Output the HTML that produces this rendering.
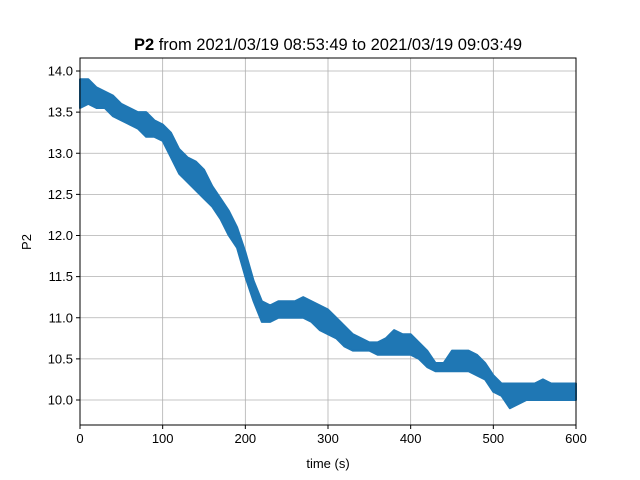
<!DOCTYPE html>
<html><head><meta charset="utf-8"><style>
html,body{margin:0;padding:0;background:#fff;}
svg{display:block;font-family:"Liberation Sans","DejaVu Sans",sans-serif;}
</style></head><body>
<svg id="chart" width="640" height="480">
<rect width="640" height="480" fill="#fff"/>
<text x="328" y="50" text-anchor="middle" font-size="16.5"><tspan font-weight="bold">P2</tspan> from 2021/03/19 08:53:49 to 2021/03/19 09:03:49</text>
<g id="grid"></g>
<g id="series"></g>
<rect x="80" y="58" width="496" height="367" fill="none" stroke="#000" stroke-width="1"/>
<g id="ticks"></g>
<text x="328" y="468" text-anchor="middle" font-size="13">time (s)</text>
<text transform="translate(31,242) rotate(-90)" text-anchor="middle" font-size="13">P2</text>
</svg>
<script>
const times=[0,10,20,30,40,50,60,70,80,90,100,110,120,130,140,150,160,170,180,190,200,210,220,230,240,250,260,270,280,290,300,310,320,330,340,350,360,370,380,390,400,410,420,430,440,450,460,470,480,490,500,510,520,530,540,550,560,570,580,590,600];
const lowVals=[13.55,13.6,13.55,13.55,13.45,13.4,13.35,13.3,13.2,13.2,13.15,12.95,12.75,12.65,12.55,12.45,12.35,12.2,12.0,11.85,11.5,11.2,10.95,10.95,11.0,11.0,11.0,11.0,10.95,10.85,10.8,10.75,10.65,10.6,10.6,10.6,10.55,10.55,10.55,10.55,10.55,10.5,10.4,10.35,10.35,10.35,10.35,10.35,10.3,10.25,10.1,10.05,9.9,9.95,10.0,10.0,10.0,10.0,10.0,10.0,10.0];
const highVals=[13.9,13.9,13.8,13.75,13.7,13.6,13.55,13.5,13.5,13.4,13.35,13.25,13.05,12.95,12.9,12.8,12.6,12.45,12.3,12.1,11.8,11.45,11.2,11.15,11.2,11.2,11.2,11.25,11.2,11.15,11.1,11.0,10.9,10.8,10.75,10.7,10.7,10.75,10.85,10.8,10.8,10.7,10.6,10.45,10.45,10.6,10.6,10.6,10.55,10.45,10.3,10.2,10.2,10.2,10.2,10.2,10.25,10.2,10.2,10.2,10.2];
const xTicks=[0,100,200,300,400,500,600];
const yTicks=[10.0,10.5,11.0,11.5,12.0,12.5,13.0,13.5,14.0];
const ns="http://www.w3.org/2000/svg";
const X=t=>80+t/600*496;
const Y=v=>400-(v-10)*82.25;
const grid=document.getElementById('grid'),ticks=document.getElementById('ticks'),series=document.getElementById('series');
function mk(tag,attrs,parent){const e=document.createElementNS(ns,tag);for(const k in attrs)e.setAttribute(k,attrs[k]);parent.appendChild(e);return e;}
xTicks.forEach(t=>{
 const g=mk('line',{x1:X(t),x2:X(t),y1:58,y2:425,stroke:'#b0b0b0','stroke-width':0.8},grid);
 
 
 mk('line',{x1:X(t),x2:X(t),y1:425,y2:429,stroke:'#000'},ticks);
 const l=mk('text',{x:X(t),y:443,'text-anchor':'middle','font-size':13},ticks);
 l.textContent=String(t);
 
 
});
yTicks.forEach(v=>{
 const g=mk('line',{x1:80,x2:576,y1:Y(v),y2:Y(v),stroke:'#b0b0b0','stroke-width':0.8},grid);
 
 
 mk('line',{x1:76,x2:80,y1:Y(v),y2:Y(v),stroke:'#000'},ticks);
 const l=mk('text',{x:73,y:Y(v)+4.5,'text-anchor':'end','font-size':13},ticks);
 l.textContent=v.toFixed(1);
 
 
});
let pts=times.map((t,i)=>X(t)+','+Y(highVals[i]));
for(let i=times.length-1;i>=0;i--)pts.push(X(times[i])+','+Y(lowVals[i]));
const band=mk('polygon',{points:pts.join(' '),fill:'#1f77b4',stroke:'#1f77b4','stroke-width':2,'stroke-linejoin':'round'},series);


</script>
</body></html>
